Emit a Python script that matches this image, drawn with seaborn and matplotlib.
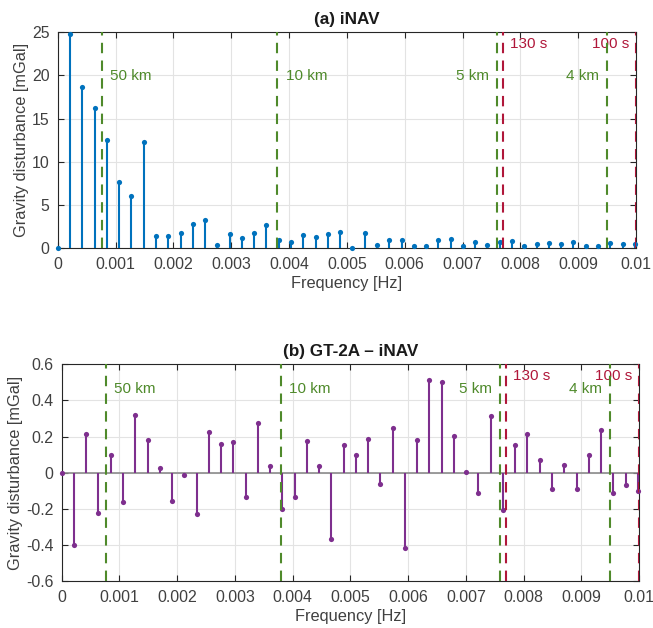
import numpy as np
import pandas as pd
import matplotlib
matplotlib.use('Agg')
import matplotlib.pyplot as plt
import seaborn as sns

# frequency bins (Hz), 48 bins up to ~0.01
df_hz = 0.01 / 47.1
freq = np.arange(48) * df_hz

# (a) iNAV amplitude spectrum [mGal]
inav = [0.0, 24.75, 18.65, 16.2, 12.5, 7.7, 6.05, 12.3, 1.47, 1.47,
        1.78, 2.86, 3.32, 0.35, 1.66, 1.16, 1.78, 2.7, 0.93, 0.7,
        1.58, 1.35, 1.66, 1.85, 0.05, 1.78, 0.35, 0.93, 0.93, 0.3,
        0.23, 0.93, 1.12, 0.3, 0.7, 0.35, 0.7, 0.8, 0.3, 0.5,
        0.58, 0.54, 0.7, 0.23, 0.3, 0.66, 0.46, 0.46]

# (b) GT-2A - iNAV difference [mGal]
diff = [0.0, -0.40, 0.214, -0.221, 0.098, -0.162, 0.317, 0.184, 0.029, -0.158,
        -0.011, -0.228, 0.223, 0.157, 0.171, -0.134, 0.276, 0.039, -0.201, -0.133,
        0.175, 0.039, -0.368, 0.151, 0.098, 0.188, -0.064, 0.247, -0.414, 0.182,
        0.512, 0.503, 0.203, 0.006, -0.11, 0.313, -0.204, 0.153, 0.215, 0.072,
        -0.087, 0.041, -0.092, 0.096, 0.238, -0.114, -0.068, -0.098]

# wavelength markers (speed ~38 m/s) and period markers
km_labels = ['50 km', '10 km', '5 km', '4 km']
km_freq = [0.00076, 0.0038, 0.0076, 0.0095]
sec_labels = ['130 s', '100 s']
sec_freq = [1 / 130, 1 / 100]

data = pd.DataFrame({'freq': freq, 'inav': inav, 'diff': diff})

sns.set_theme(style='whitegrid')
plt.rcParams['font.family'] = ['Liberation Sans', 'DejaVu Sans']

GREEN = '#4f8a2b'
RED = '#b0173a'
AX = '#262626'
TXT = '#404040'

fig = plt.figure(figsize=(6.53, 6.28), dpi=100)
ax1 = fig.add_axes([0.0884, 0.6046, 0.8856, 0.344])
ax2 = fig.add_axes([0.0945, 0.0744, 0.8841, 0.3455])


def stem_panel(ax, col, color, ylim, yticks, km_y, sec_y, title, baseline):
    if baseline:
        ax.axhline(0, color='#8c8c8c', lw=1.2, zorder=2)
    ax.vlines(data['freq'], 0, data[col], color=color, lw=1.5, zorder=3)
    sns.scatterplot(data=data, x='freq', y=col, ax=ax, color=color, s=14,
                    edgecolor=color, linewidth=0, zorder=4, legend=False, clip_on=False)
    for f, lab, ha in zip(km_freq, km_labels, ['left', 'left', 'right', 'right']):
        ax.axvline(f, color=GREEN, lw=1.5, ls=(0, (5, 3.5)), zorder=5)
        off = 0.00014 if ha == 'left' else -0.00014
        ax.text(f + off, km_y, lab, color=GREEN, ha=ha, va='center', fontsize=11)
    for f, lab, ha in zip(sec_freq, sec_labels, ['left', 'right']):
        ax.axvline(f, color=RED, lw=1.5, ls=(0, (5, 3.5)), zorder=5)
        off = 0.00012 if ha == 'left' else -0.00012
        ax.text(f + off, sec_y, lab, color=RED, ha=ha, va='center', fontsize=11)
    ax.set_xlim(0, 0.01)
    ax.set_ylim(*ylim)
    ax.set_xticks(np.arange(0, 0.0101, 0.001))
    ax.set_xticklabels(['0'] + ['%.3f' % v for v in np.arange(0.001, 0.0096, 0.001)] + ['0.01'])
    ax.set_yticks(yticks)
    ax.grid(True, color='#e3e3e3', lw=0.8)
    for s in ax.spines.values():
        s.set_visible(True)
        s.set_color(AX)
        s.set_linewidth(0.8)
    ax.tick_params(direction='in', length=4, width=0.8, color=AX, labelcolor=TXT,
                   labelsize=11.4, top=True, right=True, bottom=True, left=True, pad=6)
    ax.set_xlabel('Frequency [Hz]', fontsize=11.8, color=TXT, labelpad=3)
    ax.set_ylabel('Gravity disturbance [mGal]', fontsize=11.8, color=TXT, labelpad=2)
    ax.set_title(title, fontsize=12.3, fontweight='bold', color='#1a1a1a', pad=6)


stem_panel(ax1, 'inav', '#0072BD', (0, 25), [0, 5, 10, 15, 20, 25], 19.9, 23.7,
           '(a) iNAV', False)
stem_panel(ax2, 'diff', '#7E2F8E', (-0.6, 0.6), [-0.6, -0.4, -0.2, 0, 0.2, 0.4, 0.6],
           0.466, 0.536, '(b) GT-2A \u2013 iNAV', True)
ax2.set_yticklabels(['-0.6', '-0.4', '-0.2', '0', '0.2', '0.4', '0.6'])
ax1.set_yticklabels(['0', '5', '10', '15', '20', '25'])

fig.savefig('out.png', dpi=100)
